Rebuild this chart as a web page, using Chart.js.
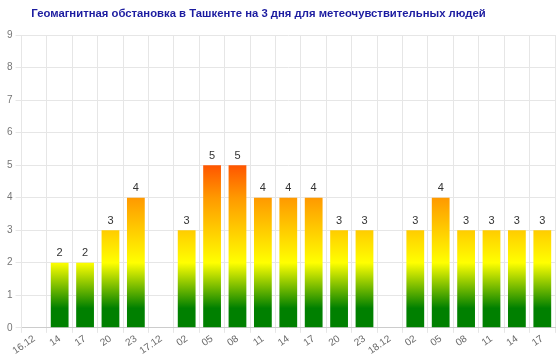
<!DOCTYPE html>
<html><head><meta charset="utf-8">
<script src="https://cdn.jsdelivr.net/npm/chart.js@4/dist/chart.umd.min.js"></script>
<style>html,body{margin:0;padding:0;background:#fff}#wrap{width:560px;height:361px}</style>
</head><body><div id="wrap"><canvas id="c"></canvas></div>
<script>
const TITLE = 'Геомагнитная обстановка в Ташкенте на 3 дня для метеочувствительных людей';
const categories = ['16.12','14','17','20','23','17.12','02','05','08','11','14','17','20','23','18.12','02','05','08','11','14','17'];
const kpValues = [null,2,2,3,4,null,3,5,5,4,4,4,3,3,null,3,4,3,3,3,3];
const yTicks = [0,1,2,3,4,5,6,7,8,9];
const FONT = '"Liberation Sans", Arial, sans-serif';

const valueLabels = {
  id:'valueLabels',
  afterDatasetsDraw(chart){
    const c = chart.ctx;
    const meta = chart.getDatasetMeta(0);
    c.save();
    c.font = '11px ' + FONT;
    c.fillStyle = '#333';
    c.textAlign = 'center';
    c.textBaseline = 'bottom';
    meta.data.forEach((bar,i)=>{
      const v = kpValues[i];
      if(v==null) return;
      c.fillText(String(v), bar.x, bar.y-4);
    });
    c.restore();
  }
};

const titlePlugin = {
  id:'customTitle',
  afterDraw(chart){
    const c = chart.ctx;
    c.save();
    c.font = 'bold 11.3px ' + FONT;
    c.fillStyle = '#1c1ca0';
    c.textAlign = 'center';
    c.textBaseline = 'middle';
    c.fillText(TITLE, 258.5, 14);
    c.restore();
  }
};

function grad(ctx){
  const chart = ctx.chart;
  const {chartArea, scales} = chart;
  if(!chartArea) return '#008000';
  const y0 = scales.y.getPixelForValue(0), y9 = scales.y.getPixelForValue(9);
  const g = chart.ctx.createLinearGradient(0,y0,0,y9);
  g.addColorStop(0,'#008000');
  g.addColorStop(0.6/9,'#008000');
  g.addColorStop(2/9,'#ffff00');
  g.addColorStop(4/9,'#ff9900');
  g.addColorStop(5/9,'#ff5500');
  g.addColorStop(1,'#ff0000');
  return g;
}

new Chart(document.getElementById('c'),{
  type:'bar',
  data:{labels:categories,datasets:[{data:kpValues,backgroundColor:grad,borderWidth:0,barPercentage:0.7,categoryPercentage:1}]},
  plugins:[valueLabels,titlePlugin],
  options:{
    responsive:true,maintainAspectRatio:false,animation:false,
    layout:{padding:{left:4,right:5,top:35,bottom:4}},
    plugins:{legend:{display:false},tooltip:{enabled:false},title:{display:false}},
    scales:{
      x:{
        grid:{color:'#e6e6e6',offset:true,tickLength:5},
        border:{color:'#ccc'},
        ticks:{color:'#666',font:{family:FONT,size:10},minRotation:35,maxRotation:35,autoSkip:false,padding:0}
      },
      y:{
        min:0,max:9,
        afterBuildTicks(axis){axis.ticks = yTicks.map(v=>({value:v}));},
        grid:{color:'#e6e6e6',tickLength:6},
        border:{color:'#e6e6e6'},
        ticks:{color:'#777',font:{family:FONT,size:10},padding:3}
      }
    }
  }
});
</script></body></html>
